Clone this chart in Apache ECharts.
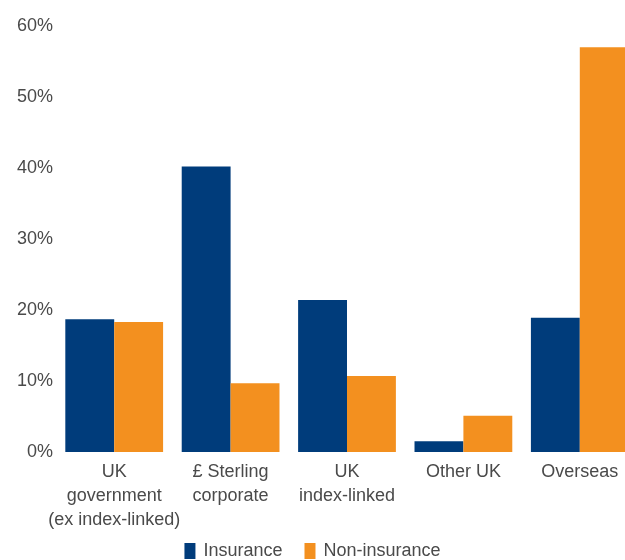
<!DOCTYPE html>
<html>
<head>
<meta charset="utf-8">
<script src="https://cdn.jsdelivr.net/npm/echarts@6/dist/echarts.min.js"></script>
<style>
  html, body { margin: 0; padding: 0; background: #fff; }
  #chart { width: 625px; height: 560px; }
</style>
</head>
<body>
<div id="chart"></div>
<script>
// Asset holdings by type, insurance vs non-insurance (% of total)
const categories = ['UK\ngovernment\n(ex index-linked)', '£ Sterling\ncorporate', 'UK\nindex-linked', 'Other UK', 'Overseas'];
const insurance = [18.7, 40.2, 21.4, 1.5, 18.9];
const nonInsurance = [18.3, 9.7, 10.7, 5.1, 57.0];
const yTicks = [0, 10, 20, 30, 40, 50, 60];

const textColor = '#4a4a4a';
const fontFamily = 'Liberation Sans, Arial, sans-serif';

const chart = echarts.init(document.getElementById('chart'));
chart.setOption({
  animation: false,
  textStyle: { fontFamily: fontFamily },
  // plot area runs past the right edge of the canvas, so the last bar is clipped
  grid: { left: 56, width: 582, top: 26, height: 426, outerBoundsMode: 'none', containLabel: false },
  legend: {
    top: 537,
    left: 'center',
    itemWidth: 11,
    itemHeight: 16,
    itemGap: 22,
    icon: 'rect',
    textStyle: { color: textColor, fontSize: 18, fontFamily: fontFamily, padding: [0, 0, 0, 3] },
    data: ['Insurance', 'Non-insurance']
  },
  xAxis: {
    type: 'category',
    data: categories,
    axisLine: { show: false },
    axisTick: { show: false },
    axisLabel: {
      color: textColor,
      fontSize: 18,
      lineHeight: 24,
      margin: 8,
      interval: 0
    }
  },
  yAxis: {
    type: 'value',
    min: yTicks[0],
    max: yTicks[yTicks.length - 1],
    interval: 10,
    splitLine: { show: false },
    axisLine: { show: false },
    axisTick: { show: false },
    axisLabel: {
      color: textColor,
      fontSize: 18,
      margin: 3,
      formatter: v => v + '%'
    }
  },
  series: [
    {
      name: 'Insurance',
      type: 'bar',
      data: insurance,
      itemStyle: { color: '#003c7b' },
      barGap: '0%',
      barCategoryGap: '16%'
    },
    {
      name: 'Non-insurance',
      type: 'bar',
      data: nonInsurance,
      itemStyle: { color: '#f3901f' }
    }
  ]
});
</script>
</body>
</html>
